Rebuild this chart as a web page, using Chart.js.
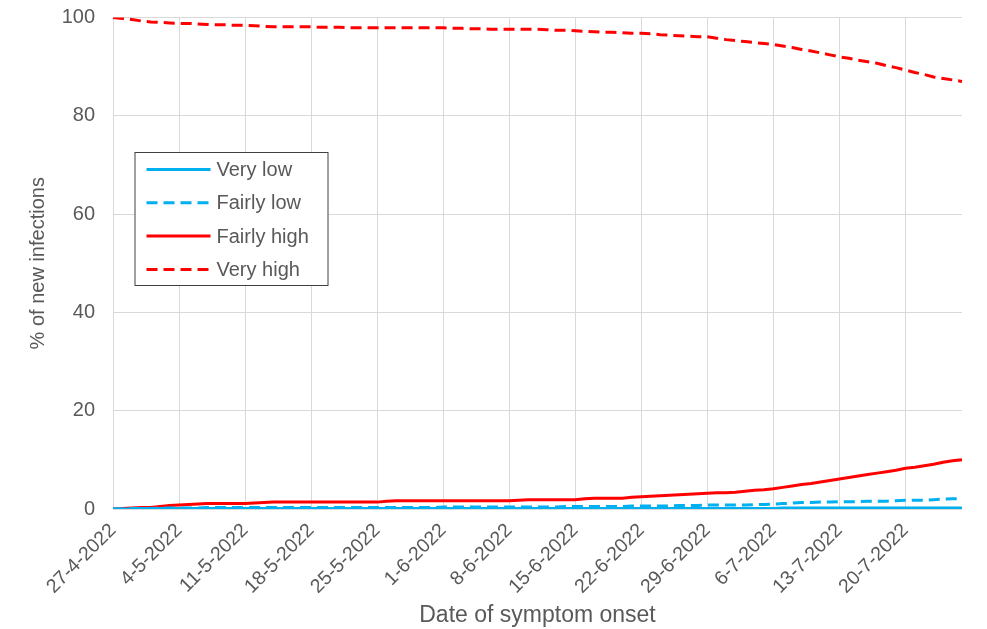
<!DOCTYPE html>
<html>
<head>
<meta charset="utf-8">
<title>% of new infections by date of symptom onset</title>
<script src="https://cdn.jsdelivr.net/npm/chart.js@4.4.1/dist/chart.umd.min.js"></script>
<style>
  html, body { margin: 0; padding: 0; background: #fff; }
  #wrap { width: 987px; height: 629px; }
</style>
</head>
<body>
<div id="wrap"><canvas id="myChart" width="987" height="629"></canvas></div>
<script>
// dates of symptom onset, one per day
const dates = [
  '27-4-2022','28-4-2022','29-4-2022','30-4-2022','1-5-2022','2-5-2022','3-5-2022',
  '4-5-2022','5-5-2022','6-5-2022','7-5-2022','8-5-2022','9-5-2022','10-5-2022',
  '11-5-2022','12-5-2022','13-5-2022','14-5-2022','15-5-2022','16-5-2022','17-5-2022',
  '18-5-2022','19-5-2022','20-5-2022','21-5-2022','22-5-2022','23-5-2022','24-5-2022',
  '25-5-2022','26-5-2022','27-5-2022','28-5-2022','29-5-2022','30-5-2022','31-5-2022',
  '1-6-2022','2-6-2022','3-6-2022','4-6-2022','5-6-2022','6-6-2022','7-6-2022',
  '8-6-2022','9-6-2022','10-6-2022','11-6-2022','12-6-2022','13-6-2022','14-6-2022',
  '15-6-2022','16-6-2022','17-6-2022','18-6-2022','19-6-2022','20-6-2022','21-6-2022',
  '22-6-2022','23-6-2022','24-6-2022','25-6-2022','26-6-2022','27-6-2022','28-6-2022',
  '29-6-2022','30-6-2022','1-7-2022','2-7-2022','3-7-2022','4-7-2022','5-7-2022',
  '6-7-2022','7-7-2022','8-7-2022','9-7-2022','10-7-2022','11-7-2022','12-7-2022',
  '13-7-2022','14-7-2022','15-7-2022','16-7-2022','17-7-2022','18-7-2022','19-7-2022',
  '20-7-2022','21-7-2022','22-7-2022','23-7-2022','24-7-2022','25-7-2022','26-7-2022'
];

// % of new infections per group
const veryLow = [
  0.0,0.0,0.0,0.1,0.1,0.1,0.1, 0.1,0.1,0.1,0.1,0.1,0.1,0.1,
  0.1,0.1,0.1,0.1,0.1,0.1,0.1, 0.1,0.1,0.1,0.1,0.1,0.1,0.1,
  0.1,0.1,0.1,0.1,0.1,0.1,0.1, 0.1,0.1,0.1,0.1,0.1,0.1,0.1,
  0.1,0.1,0.1,0.1,0.1,0.1,0.1, 0.1,0.1,0.1,0.1,0.1,0.1,0.1,
  0.1,0.1,0.1,0.1,0.1,0.1,0.1, 0.1,0.1,0.1,0.1,0.1,0.1,0.1,
  0.1,0.2,0.2,0.2,0.2,0.2,0.2, 0.2,0.2,0.2,0.2,0.2,0.2,0.2,
  0.2,0.2,0.2,0.2,0.2,0.2,0.2
];
const fairlyLow = [
  0.0,0.0,0.1,0.1,0.1,0.2,0.2, 0.2,0.2,0.2,0.3,0.3,0.3,0.3,
  0.3,0.3,0.3,0.3,0.3,0.3,0.3, 0.3,0.3,0.3,0.3,0.3,0.3,0.3,
  0.3,0.3,0.3,0.3,0.3,0.3,0.3, 0.4,0.4,0.4,0.4,0.4,0.4,0.4,
  0.4,0.4,0.4,0.4,0.4,0.4,0.5, 0.5,0.5,0.5,0.5,0.5,0.5,0.6,
  0.6,0.6,0.6,0.6,0.7,0.7,0.7, 0.8,0.8,0.8,0.8,0.8,0.9,0.9,
  1.0,1.1,1.2,1.3,1.3,1.4,1.4, 1.5,1.5,1.5,1.6,1.6,1.6,1.7,
  1.8,1.8,1.8,1.9,2.0,2.1,2.1
];
const fairlyHigh = [
  0.0,0.1,0.2,0.3,0.3,0.5,0.7, 0.8,0.9,1.0,1.1,1.1,1.1,1.1,
  1.1,1.2,1.3,1.4,1.4,1.4,1.4, 1.4,1.4,1.4,1.4,1.4,1.4,1.4,
  1.4,1.6,1.7,1.7,1.7,1.7,1.7, 1.7,1.7,1.7,1.7,1.7,1.7,1.7,
  1.7,1.8,1.9,1.9,1.9,1.9,1.9, 1.9,2.1,2.2,2.2,2.2,2.2,2.4,
  2.5,2.6,2.7,2.8,2.9,3.0,3.1, 3.2,3.3,3.3,3.4,3.6,3.8,3.9,
  4.1,4.4,4.7,5.0,5.2,5.5,5.8, 6.1,6.4,6.7,7.0,7.3,7.6,7.9,
  8.3,8.5,8.8,9.1,9.5,9.8,10.0
];
const veryHigh = [
  100.0,99.8,99.6,99.3,99.1,99.0,98.9, 98.8,98.8,98.7,98.6,98.5,98.5,98.4,
  98.4,98.3,98.2,98.1,98.1,98.1,98.1, 98.1,98.0,98.0,98.0,97.9,97.9,97.9,
  97.9,97.9,97.9,97.9,97.9,97.9,97.9, 97.9,97.8,97.8,97.7,97.7,97.6,97.6,
  97.6,97.6,97.6,97.6,97.5,97.4,97.4, 97.3,97.2,97.1,97.0,97.0,96.9,96.8,
  96.8,96.7,96.5,96.4,96.3,96.2,96.1, 96.1,95.8,95.5,95.3,95.1,94.9,94.7,
  94.5,94.2,93.9,93.5,93.2,92.8,92.4, 92.0,91.7,91.3,91.0,90.7,90.2,89.8,
  89.3,88.8,88.4,87.9,87.6,87.3,87.0
];

const yTicks = [0, 20, 40, 60, 80, 100];

const BLUE = '#00b0f0';
const RED = '#ff0000';
const TEXT = '#595959';
const GRID = '#d9d9d9';
const FONT = '"Liberation Sans", Arial, sans-serif';
const DASH = [11, 6];

//legend drawn as a framed box inside the plot, like the original
const boxLegend = {
  id: 'boxLegend',
  afterDraw(chart) {
    const {ctx, chartArea} = chart;
    const x0 = chartArea.left + 21.5;
    const y0 = chartArea.top + 134.5;
    ctx.save();
    ctx.fillStyle = '#fff';
    ctx.fillRect(x0, y0, 194, 134);
    ctx.strokeStyle = '#404040';
    ctx.lineWidth = 1;
    ctx.strokeRect(x0 + 0.5, y0 + 0.5, 193, 133);
    chart.data.datasets.forEach((ds, i) => {
      const y = y0 + 17.5 + i * 33.3;
      ctx.strokeStyle = ds.borderColor;
      ctx.lineWidth = 3;
      ctx.setLineDash(ds.borderDash || []);
      ctx.beginPath();
      ctx.moveTo(x0 + 12, y);
      ctx.lineTo(x0 + 76, y);
      ctx.stroke();
      ctx.setLineDash([]);
      ctx.fillStyle = TEXT;
      ctx.font = '20px ' + FONT;
      ctx.textBaseline = 'middle';
      ctx.textAlign = 'left';
      ctx.fillText(ds.label, x0 + 82, y + 1);
    });
    ctx.restore();
  }
};

const line = (label, data, color, dash) => ({
  label,
  data,
  borderColor: color,
  backgroundColor: color,
  borderWidth: 3,
  borderDash: dash,
  pointRadius: 0,
  tension: 0,
  fill: false
});

const config = {
  type: 'line',
  data: {
    labels: dates,
    datasets: [
      line('Very low', veryLow, BLUE, []),
      line('Fairly low', fairlyLow, BLUE, DASH),
      line('Fairly high', fairlyHigh, RED, []),
      line('Very high', veryHigh, RED, DASH)
    ]
  },
  options: {
    responsive: false,
    animation: false,
    layout: { padding: { left: 0, right: 25, top: 17.5, bottom: 0 } },
    plugins: {
      legend: { display: false },
      tooltip: { enabled: false }
    },
    scales: {
      x: {
        type: 'category',
        offset: false,
        grid: { color: GRID, lineWidth: 1, drawTicks: false },
        border: { display: false },
        ticks: {
          autoSkip: false,
          maxRotation: 45,
          minRotation: 45,
          padding: 10,
          color: TEXT,
          font: { family: FONT, size: 19.5 },
          callback: (v, i) => (i % 7 === 0 ? dates[i] : null)
        },
        title: {
          display: true,
          text: 'Date of symptom onset',
          color: TEXT,
          font: { family: FONT, size: 23 },
          padding: { top: 0, bottom: 0 }
        },
        afterFit: (scale) => { scale.height = 120; }
      },
      y: {
        min: 0,
        max: 100,
        // invisible tick marks keep the labels away from the plot
        grid: { color: GRID, lineWidth: 1, drawTicks: true, tickLength: 18, tickColor: 'rgba(0,0,0,0)' },
        border: { display: false },
        afterBuildTicks: (scale) => { scale.ticks = yTicks.map(v => ({ value: v })); },
        ticks: {
          padding: 0,
          color: TEXT,
          font: { family: FONT, size: 20 }
        },
        title: {
          display: true,
          text: '% of new infections',
          color: TEXT,
          font: { family: FONT, size: 20 },
          padding: { top: 26, bottom: 0 }
        },
        afterFit: (scale) => { scale.width = 113; }
      }
    }
  },
  plugins: [boxLegend]
};

new Chart(document.getElementById('myChart').getContext('2d'), config);
</script>
</body>
</html>
